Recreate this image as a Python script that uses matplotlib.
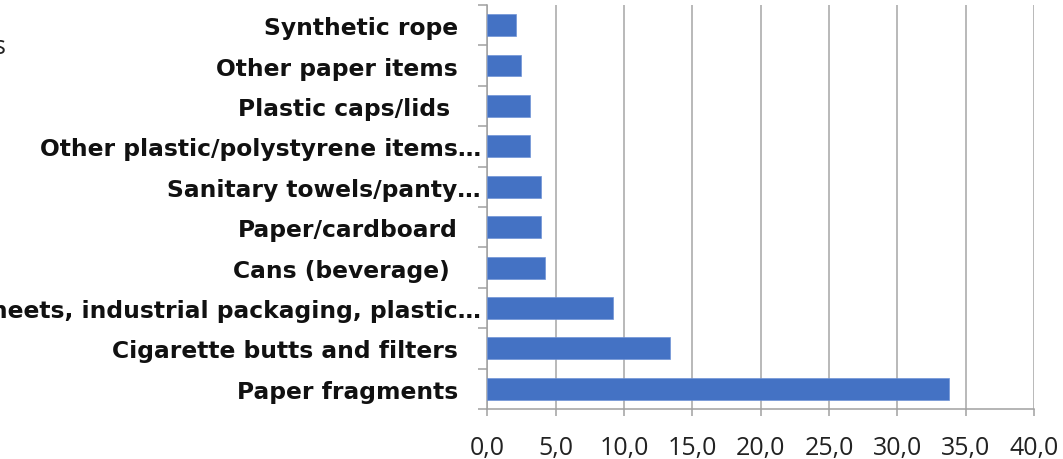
import matplotlib
matplotlib.use('Agg')
import matplotlib.pyplot as plt
import numpy as np

# categories bottom -> top (barh draws index 0 at the bottom)
categories = ['Paper fragments',
              'Cigarette butts and filters',
              'Sheets, industrial packaging, plastic…',
              'Cans (beverage) ',
              'Paper/cardboard',
              'Sanitary towels/panty…',
              'Other plastic/polystyrene items…',
              'Plastic caps/lids ',
              'Other paper items',
              'Synthetic rope']
values = [33.8, 13.4, 9.2, 4.2, 3.9, 3.9, 3.1, 3.1, 2.5, 2.1]
xticks = [0, 5, 10, 15, 20, 25, 30, 35, 40]
xticklabels = ['0,0', '5,0', '10,0', '15,0', '20,0', '25,0', '30,0', '35,0', '40,0']
truncated = [2, 5, 6]

plt.rcParams['font.family'] = ['Open Sans', 'DejaVu Sans']
fig = plt.figure(figsize=(10.63, 4.6), dpi=100)
ax = fig.add_axes([0.4584, 0.1087, 0.9727 - 0.4584, 0.987 - 0.1087])

y = np.arange(len(categories))
ax.barh(y, values, height=0.54, color='#4472C4', edgecolor='#6f93d6', linewidth=0.5, zorder=3)

ax.set_xlim(0, 40)
ax.set_ylim(-0.5, len(categories) - 0.5)
ax.set_xticks(xticks)
ax.set_xticklabels(xticklabels, fontsize=18, color='#222222')
ax.set_yticks(y)
ax.set_yticklabels(categories, fontsize=16.8, fontweight='bold', color='#111111',
                   family=['DejaVu Sans'])
ax.set_yticks(np.arange(-0.5, len(categories), 1.0), minor=True)

ax.tick_params(axis='y', which='major', length=0, pad=21)
ax.tick_params(axis='y', which='minor', length=6.5, width=1.1, color='#a0a0a0', direction='out')
ax.tick_params(axis='x', which='major', length=5, width=1.1, color='#a0a0a0', pad=14)
for i, t in enumerate(ax.yaxis.get_major_ticks()):
    if i in truncated:
        t.set_pad(4.5)

ax.grid(axis='x', color='#a6a6a6', linewidth=1.1, zorder=0)
for s in ['top', 'right']:
    ax.spines[s].set_visible(False)
for s in ['left', 'bottom']:
    ax.spines[s].set_color('#a0a0a0')
    ax.spines[s].set_linewidth(1.1)

fig.text(-0.006, 0.897, 's', fontsize=18, ha='left', va='center', color='#222222')

fig.savefig('out.png', dpi=100)
